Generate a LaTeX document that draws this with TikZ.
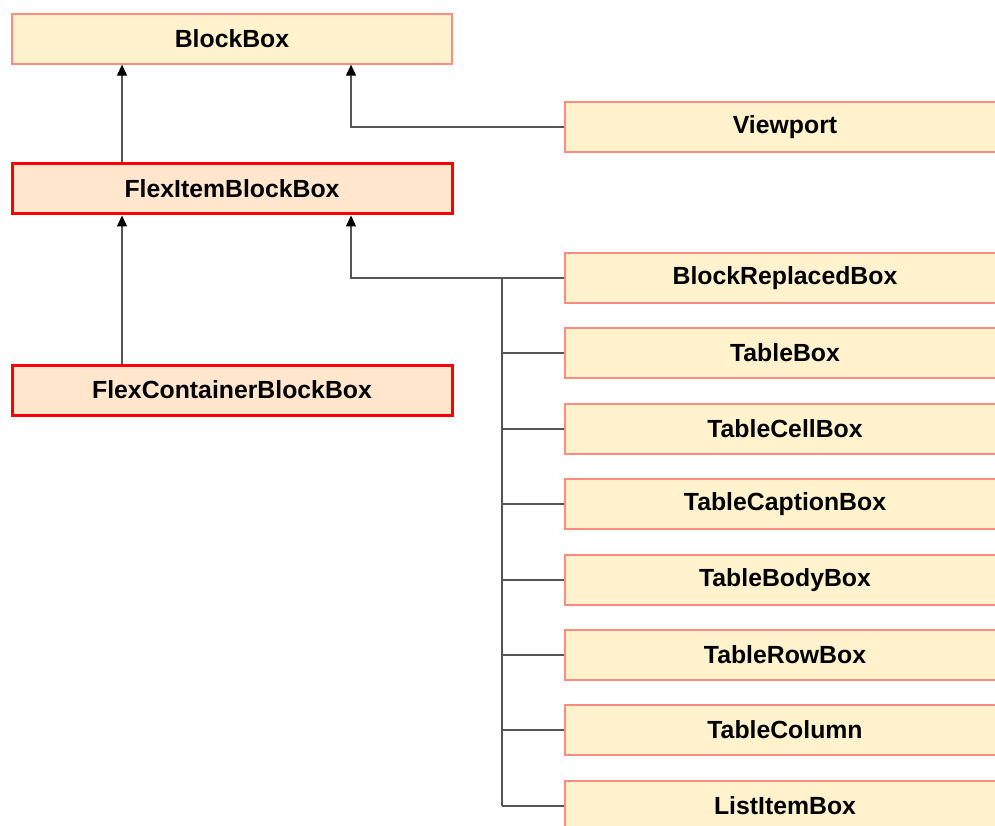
\documentclass[tikz,border=0pt]{standalone}
\usepackage{fontspec}
\setmainfont{Liberation Sans}
\usetikzlibrary{arrows.meta,positioning}
\definecolor{classfill}{HTML}{FFF2CC}
\definecolor{classline}{HTML}{FF8A80}
\definecolor{flexfill}{HTML}{FFE6CC}
\definecolor{flexline}{HTML}{FF0000}
\definecolor{linkgray}{HTML}{555555}

\tikzset{
  classbox/.style={draw=classline,fill=classfill,line width=1.3pt,minimum width=440pt,minimum height=50pt,inner sep=0pt,font=\fontsize{24.8}{28}\selectfont\bfseries},
  flexbox/.style={classbox,draw=flexline,fill=flexfill,line width=3pt},
  inherit/.style={draw=linkgray,line width=1.2pt,-{Triangle[length=11pt,width=10pt,black]}},
  branch/.style={draw=linkgray,line width=1.2pt}
}

\begin{document}
\begin{tikzpicture}[x=1pt,y=-1pt]
        \clip (0,0) rectangle (995,826);
        \fill[white] (0,0) rectangle (995,826);

        % left column
        \node[classbox] (blockbox) at (232,39) {BlockBox};
        \node[flexbox] (flexitem) at (232,189) {FlexItemBlockBox};
        \node[flexbox] (flexcont) at (232,390) {FlexContainerBlockBox};

        % right column
        \node[classbox] (viewport) at (785,127) {Viewport};
        \node[classbox] (blockrep) at (785,278) {BlockReplacedBox};
        \node[classbox] (tablebox) at (785,353) {TableBox};
        \node[classbox] (tablecell) at (785,429) {TableCellBox};
        \node[classbox] (tablecaption) at (785,504) {TableCaptionBox};
        \node[classbox] (tablebody) at (785,580) {TableBodyBox};
        \node[classbox] (tablerow) at (785,655) {TableRowBox};
        \node[classbox] (tablecol) at (785,730) {TableColumn};
        \node[classbox] (listitem) at (785,806) {ListItemBox};

        % inheritance
        \draw[inherit] ([xshift=-110pt]flexitem.north) -- ([xshift=-110pt]blockbox.south);
        \draw[inherit] (viewport.west) -| ([xshift=119pt]blockbox.south);
        \draw[inherit] ([xshift=-110pt]flexcont.north) -- ([xshift=-110pt]flexitem.south);
        \draw[inherit] (blockrep.west) -| ([xshift=119pt]flexitem.south);

        \coordinate (trunk) at (502,278);
        \draw[branch] (trunk) -- (trunk |- listitem.west);
        \foreach \kid in {tablebox,tablecell,tablecaption,tablebody,tablerow,tablecol,listitem}
          \draw[branch] (trunk |- \kid.west) -- (\kid.west);
      \end{tikzpicture}
\end{document}
